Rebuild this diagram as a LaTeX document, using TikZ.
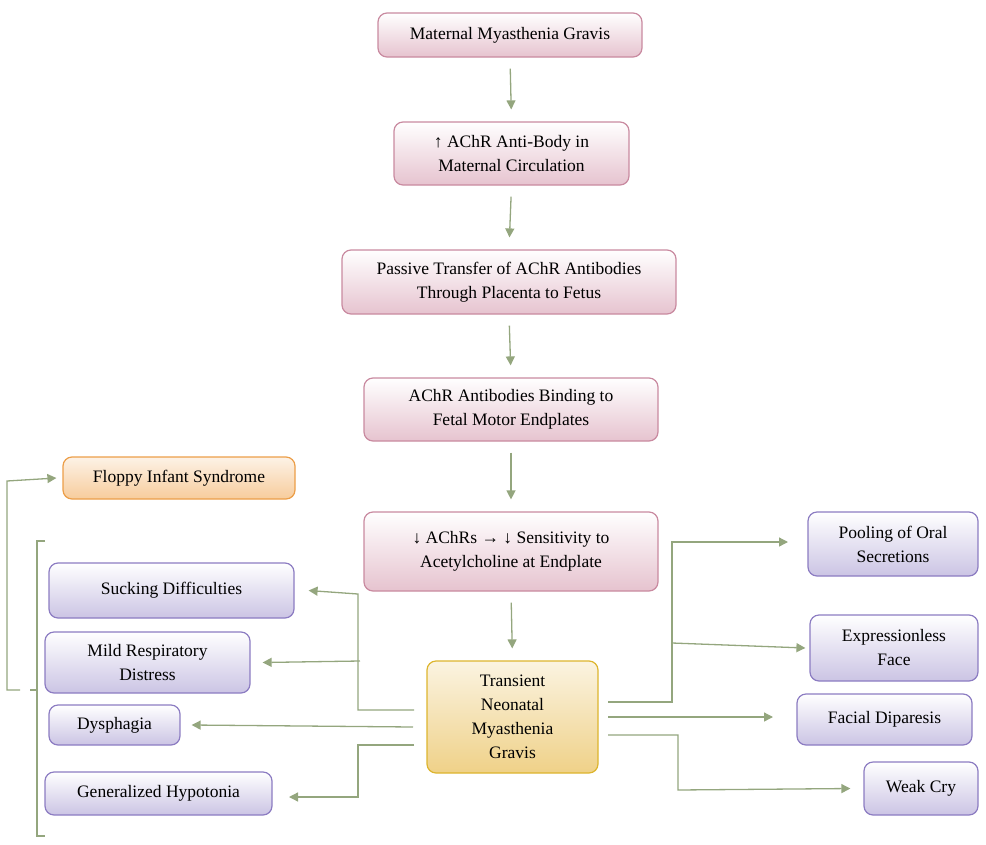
\documentclass[tikz,border=0pt]{standalone}
\usepackage{fontspec}
\setmainfont{Liberation Serif}
\usetikzlibrary{arrows.meta,calc}
\definecolor{arr}{HTML}{94A67E}
\definecolor{pinkb}{HTML}{C98AA0}
\definecolor{pinkf}{HTML}{E6C3CF}
\definecolor{purpb}{HTML}{8C7CC2}
\definecolor{purpf}{HTML}{CBC4E4}
\definecolor{goldb}{HTML}{DDB52E}
\definecolor{goldf}{HTML}{EFD188}
\definecolor{orab}{HTML}{EC9E48}
\definecolor{oraf}{HTML}{F7CC9C}
\tikzset{
 base/.style={rounded corners=9pt, line width=1.2pt, align=center, inner sep=2pt,
   font=\fontsize{17.5}{24}\selectfont},
 pinkbox/.style={base, draw=pinkb, top color=white, bottom color=pinkf},
 purpbox/.style={base, draw=purpb, top color=white, bottom color=purpf},
 goldbox/.style={base, draw=goldb, top color=goldf!25, bottom color=goldf},
 orabox/.style={base, draw=orab, top color=oraf!25, bottom color=oraf},
 con/.style={draw=arr, line width=1.3pt, -{Triangle[length=9pt,width=9pt]}},
 seg/.style={draw=arr, line width=1.3pt},
}
\newcommand{\bx}[7]{\node[#1, minimum width={#4-#3}, minimum height={#6-#5}] (#2) at ({(#3+#4)/2},{(#5+#6)/2}) {#7};}
\begin{document}
\begin{tikzpicture}[x=1pt,y=-1pt]
\useasboundingbox (0,0) rectangle (986,844);
\bx{pinkbox}{m1}{378}{642}{13}{57}{Maternal Myasthenia Gravis}
\bx{pinkbox}{m2}{394}{629}{122}{185}{↑ AChR Anti-Body in\\Maternal Circulation}
\bx{pinkbox}{m3}{342}{676}{250}{314}{Passive Transfer of AChR Antibodies\\Through Placenta to Fetus}
\bx{pinkbox}{m4}{364}{658}{378}{441}{AChR Antibodies Binding to\\Fetal Motor Endplates}
\bx{pinkbox}{m5}{364}{658}{512}{591}{↓ AChRs → ↓ Sensitivity to\\Acetylcholine at Endplate}
\bx{goldbox}{t}{427}{598}{661}{773}{Transient\\Neonatal\\Myasthenia\\Gravis}
\bx{orabox}{fl}{63}{295}{457}{499}{Floppy Infant Syndrome}
\bx{purpbox}{su}{49}{294}{563}{618}{Sucking Difficulties}
\bx{purpbox}{mi}{45}{250}{632}{693}{Mild Respiratory\\Distress}
\bx{purpbox}{dy}{49}{180}{705}{745}{Dysphagia}
\bx{purpbox}{ge}{45}{272}{772}{815}{Generalized Hypotonia}
\bx{purpbox}{po}{808}{978}{512}{576}{Pooling of Oral\\Secretions}
\bx{purpbox}{ex}{810}{978}{615}{681}{Expressionless\\Face}
\bx{purpbox}{fa}{797}{972}{694}{745}{Facial Diparesis}
\bx{purpbox}{we}{864}{978}{762}{815}{Weak Cry}
% vertical chain
\foreach \a/\b in {m1/m2,m2/m3,m3/m4,m4/m5,m5/t}
  \draw[con, shorten >=12pt, shorten <=11pt] (\a.south) -- (\b.north);
% left branches
\coordinate (lA) at (414,710); \coordinate (lB) at (413,727); \coordinate (lC) at (414,745);
\draw[con] (lA) -- (358,710) -- (358,594) -- ($(su.east)+(14,0)$);
\draw[con] (360,661) -- ($(mi.east)+(12,0)$);
\draw[con] (lB) -- ($(dy.east)+(11,0)$);
\draw[con] (lC) -- (358,745) -- (358,797) -- (289,797);
% right branches
\draw[con] (608,702) -- (672,702) -- (672,542) -- (788,542);
\draw[con] (672,643) -- ($(ex.west)+(-4,0)$);
\draw[con] (608,717) -- (773,717);
\draw[con] (608,735) -- (678,735) -- (678,790) -- ($(we.west)+(-13,0)$);
% brace
\draw[seg] (45,541) -- (37,541) -- (37,836) -- (45,836);
\draw[seg] (37,690) -- (30,690);
\draw[con] (20,690) -- (7,690) -- (7,481) -- ($(fl.west)+(-6,0)$);
\end{tikzpicture}
\end{document}
